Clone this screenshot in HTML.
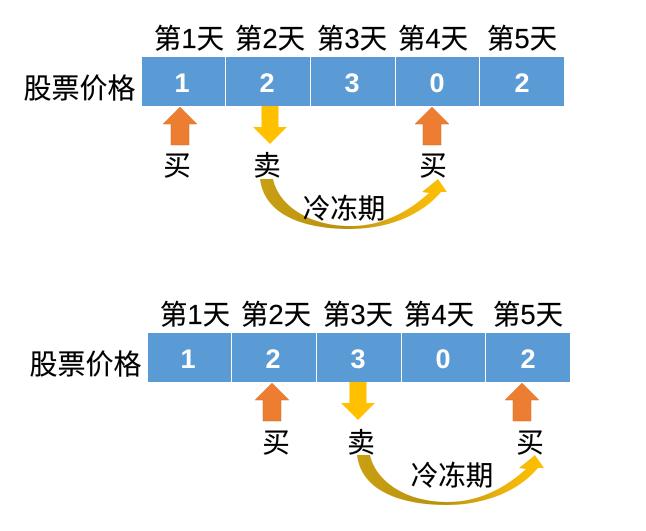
<!DOCTYPE html>
<html><head><meta charset="utf-8">
<style>
html,body{margin:0;padding:0;background:#fff}
svg{display:block}
text{font-family:"Liberation Sans","Noto Sans CJK SC",sans-serif;fill:#000}
.l{font-size:27.500px;text-anchor:middle;stroke:#000;stroke-width:.15}
.n{font-size:27px;font-weight:bold;fill:#fff;text-anchor:middle;font-family:"Liberation Sans",sans-serif}
</style></head><body>
<svg width="646" height="531" viewBox="0 0 646 531" xmlns="http://www.w3.org/2000/svg">
<defs>
<linearGradient id="g" x1="0" y1="0" x2="1" y2="0">
<stop offset="0" stop-color="#c9a013"/><stop offset=".45" stop-color="#b8900f"/><stop offset=".8" stop-color="#eeb40e"/><stop offset="1" stop-color="#ffc000"/>
</linearGradient>
<g id="up"><path d="M0 0L17 17H9V38H-9V17H-17Z" fill="#ed7d31" stroke="#d9752f" stroke-width=".5"/></g>
<g id="down"><path d="M-8.500 0H8.500V21H17L0 38L-17 21H-8.500Z" fill="#ffc000"/></g>
<g id="curve"><path d="M260 179H273C279 206 310 226 350 226C382 226 408 212 429 193L422 192L438 179L447 192L441 192C420 217 385 229 350 229C300 229 264 213 260 179Z" fill="url(#g)"/></g>
<g id="row">
<rect x="142" y="57" width="422" height="49" fill="#5b9bd5"/>
<path d="M225.500 57V106M310.500 57V106M395.500 57V106M479.500 57V106" stroke="#fff" stroke-width="1"/>
<text class="n" x="182" y="92">1</text><text class="n" x="267" y="92">2</text><text class="n" x="352" y="92">3</text><text class="n" x="437" y="92">0</text><text class="n" x="522" y="92">2</text>
<text class="l" x="189" y="48">第1天</text><text class="l" x="270" y="48">第2天</text><text class="l" x="352" y="48">第3天</text><text class="l" x="433" y="48">第4天</text><text class="l" x="522" y="48">第5天</text>
<text class="l" x="79.500" y="98" style="font-size:28px">股票价格</text>
</g>
</defs>
<use href="#row"/>
<use href="#up" x="180" y="107"/>
<use href="#down" x="270" y="106"/>
<use href="#up" x="432" y="107"/>
<text class="l" x="177" y="175">买</text>
<text class="l" x="267" y="175">卖</text>
<text class="l" x="433" y="175">买</text>
<use href="#curve"/>
<text class="l" x="344" y="218">冷冻期</text>

<use href="#row" x="6" y="276"/>
<use href="#up" x="272" y="383"/>
<use href="#down" x="358" y="382"/>
<use href="#up" x="522" y="383"/>
<text class="l" x="276" y="452">买</text>
<text class="l" x="361" y="452">卖</text>
<text class="l" x="530" y="452">买</text>
<use href="#curve" x="97" y="276"/>
<text class="l" x="452" y="485">冷冻期</text>
</svg>
</body></html>
